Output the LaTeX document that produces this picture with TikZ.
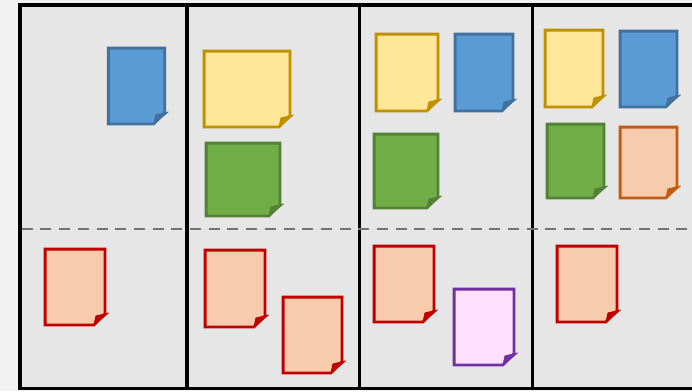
\documentclass[tikz,border=0pt]{standalone}
\usepackage{tikz}
\usetikzlibrary{positioning}

\definecolor{page}{HTML}{F2F2F2}
\definecolor{board}{HTML}{E6E6E6}
\definecolor{bluelight}{HTML}{5B9BD5}
\definecolor{bluedark}{HTML}{41719C}
\definecolor{yellowlight}{HTML}{FFE699}
\definecolor{yellowdark}{HTML}{BF9000}
\definecolor{greenlight}{HTML}{70AD47}
\definecolor{greendark}{HTML}{538135}
\definecolor{redlight}{HTML}{F8CBAD}
\definecolor{reddark}{HTML}{C00000}
\definecolor{orangelight}{HTML}{F8CBAD}
\definecolor{orangedark}{HTML}{C55A11}
\definecolor{purplelight}{HTML}{FFDFFF}
\definecolor{purpledark}{HTML}{7030A0}

\begin{document}
\begin{tikzpicture}[x=1pt, y=-1pt,
            note/.style={rectangle, draw=none, inner sep=0pt, minimum width=58pt,
            minimum height=75.5pt},
            lane/.style={line width=3.4pt, draw=black},
            split/.style={line width=2.6pt, draw=black!55, dash pattern=on 11pt off 7.7pt}]
            \useasboundingbox (0,0) rectangle (692,391);
            \fill[page] (0,0) rectangle (692,391);
            \filldraw[lane, fill=board] (20,5) rectangle (705,388.5);

            % columns and the line between top and bottom
            \coordinate (top1) at (187,5);     \coordinate (bot1) at (187,388.5);
            \coordinate (top2) at (359.5,5);   \coordinate (bot2) at (359.5,388.5);
            \coordinate (top3) at (532.5,5);   \coordinate (bot3) at (532.5,388.5);
            \coordinate (left) at (21.7,229);  \coordinate (right) at (700,229);
            \draw[lane] (top1) -- (bot1);
            \draw[lane] (top2) -- (bot2);
            \draw[lane] (top3) -- (bot3);
            \draw[split] (left) -- (right);

            % notes
            \node[note, minimum width=56pt] (blueA) at (136.5,86) {};
            \node[note, minimum width=59.5pt] (redA) at (75,287) {};
            \node[note, minimum width=85.5pt] (yellowB) at (247,89) {};
            \node[note, minimum width=73.5pt, minimum height=72.5pt] (greenB) at (243,179.5) {};
            \node[note, minimum width=59.5pt, minimum height=76.5pt] (redB) at (235,288.5) {};
            \node[note, minimum width=58.5pt] (redBB) at (312.5,335) {};
            \node[note, minimum width=61.5pt, minimum height=76.5pt] (yellowC) at (407,72.5) {};
            \node[note, minimum width=57.5pt, minimum height=76.5pt] (blueC) at (484,72.5) {};
            \node[note, minimum width=63.5pt, minimum height=73.5pt] (greenC) at (406,171) {};
            \node[note, minimum width=59.5pt] (redC) at (404,284) {};
            \node[note, minimum width=59.5pt] (purpleC) at (484,327) {};
            \node[note, minimum width=57.5pt, minimum height=76.5pt] (yellowD) at (574,68.5) {};
            \node[note, minimum width=56.5pt] (blueD) at (648.5,69) {};
            \node[note, minimum width=56.5pt, minimum height=73.5pt] (greenD) at (575.5,161) {};
            \node[note, minimum width=56.5pt, minimum height=70.5pt] (orangeD) at (648.5,162.5) {};
            \node[note, minimum width=59.5pt] (redD) at (587,284) {};

            \foreach \n/\c in {blueA/blue, redA/red, yellowB/yellow, greenB/green,
                redB/red, redBB/red, yellowC/yellow, blueC/blue, greenC/green,
                redC/red, purpleC/purple, yellowD/yellow, blueD/blue, greenD/green,
                orangeD/orange, redD/red} {
                \filldraw[draw=\c dark, fill=\c light, line width=2.9pt, line join=miter]
                    (\n.north west) -- (\n.north east) -- ([yshift=11pt]\n.south east)
                    -- ([xshift=-11pt]\n.south east) -- (\n.south west) -- cycle;
                \filldraw[\c dark, line width=0.8pt, line join=round]
                    ([xshift=-11pt]\n.south east) -- ([xshift=-9pt, yshift=9pt]\n.south east)
                    -- ([xshift=3.5pt, yshift=12pt]\n.south east) -- cycle;
            }
        \end{tikzpicture}
\end{document}
